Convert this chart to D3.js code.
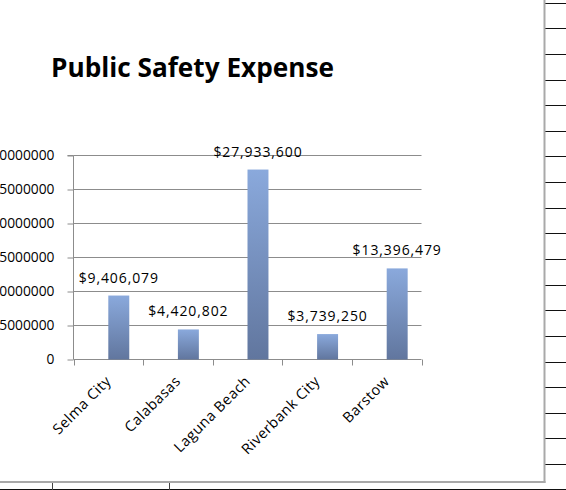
<!DOCTYPE html>
<html>
<head>
<meta charset="utf-8">
<script src="https://cdn.jsdelivr.net/npm/d3@7"></script>
<style>
  html, body { margin: 0; padding: 0; background: #fff; }
  svg { display: block; }
  text { font-family: "Open Sans", "Liberation Sans", sans-serif; fill: #000; }
</style>
</head>
<body>
<svg id="chart" width="566" height="490"></svg>
<script>
// City public safety expenses (USD)
const categories = ["Selma City", "Calabasas", "Laguna Beach", "Riverbank City", "Barstow"];
const expenses = [9406079, 4420802, 27933600, 3739250, 13396479];
const yTickValues = [0, 5000000, 10000000, 15000000, 20000000, 25000000, 30000000];
const chartTitle = "Public Safety Expense";

const svg = d3.select("#chart");
const W = 566, H = 490;

// ---- worksheet background: row/column rules around the chart object ----
const sheet = svg.append("g").attr("class", "sheet");
const rowStep = 25.63, rowStart = 2.7;
for (let y = rowStart; y < H; y += rowStep) {
  sheet.append("line")
    .attr("x1", 545).attr("x2", W)
    .attr("y1", Math.round(y) + 0.5).attr("y2", Math.round(y) + 0.5)
    .attr("stroke", "#111").attr("stroke-width", 1);
}
// bottom row rule across the full width
sheet.append("line").attr("x1", 0).attr("x2", W).attr("y1", 489.5).attr("y2", 489.5)
  .attr("stroke", "#111").attr("stroke-width", 1);
// column rules peeking out below the chart
[52.5, 169.5].forEach(x => {
  sheet.append("line").attr("x1", x).attr("x2", x).attr("y1", 482).attr("y2", 490)
    .attr("stroke", "#444").attr("stroke-width", 1);
});

// chart object area with its gray frame edges
svg.append("rect").attr("x", 0).attr("y", 0).attr("width", 544).attr("height", 481).attr("fill", "#fff");
svg.append("rect").attr("x", 543.5).attr("y", 0).attr("width", 2).attr("height", 483).attr("fill", "#a9a9a9");
svg.append("rect").attr("x", 0).attr("y", 481).attr("width", 545.5).attr("height", 2).attr("fill", "#a9a9a9");

// ---- title ----
svg.append("text")
  .attr("x", 51).attr("y", 77)
  .attr("font-size", 26.2).attr("font-weight", "bold")
  .text(chartTitle);

// ---- scales ----
const plot = { left: 73.5, right: 421.5, top: 155.5, bottom: 359.5 };

const x0 = d3.scaleBand().domain(categories).range([plot.left, plot.right]);
// two slots per category (clustered layout); the expense bar sits in the second slot
const x1 = d3.scaleBand().domain(["other", "expense"]).range([0, x0.bandwidth()])
  .paddingInner(0).paddingOuter(0.66);
const y = d3.scaleLinear().domain([0, 30000000]).range([plot.bottom, plot.top]);

const axisColor = "#8c8c8c";

// gridlines
svg.append("g").selectAll("line").data(yTickValues.filter(v => v > 0)).join("line")
  .attr("x1", plot.left).attr("x2", plot.right)
  .attr("y1", d => y(d)).attr("y2", d => y(d))
  .attr("stroke", axisColor).attr("stroke-width", 1);

// y axis
const yAxis = svg.append("g")
  .attr("transform", `translate(${plot.left},0)`)
  .call(d3.axisLeft(y).tickValues(yTickValues).tickFormat(d3.format("d")).tickSize(6).tickPadding(13));
yAxis.select(".domain").attr("stroke", axisColor).attr("d", `M-6,${plot.top}H0V${plot.bottom}`);
yAxis.selectAll(".tick line").attr("stroke", axisColor);
yAxis.selectAll(".tick text")
  .attr("font-size", 13.8).attr("font-family", '"Open Sans", sans-serif').attr("fill", "#000");

// x axis with tick marks on category boundaries
const xAxisG = svg.append("g").attr("transform", `translate(0,${plot.bottom})`);
xAxisG.append("line").attr("x1", plot.left).attr("x2", plot.right).attr("y1", 0).attr("y2", 0)
  .attr("stroke", axisColor);
const boundaries = categories.map(c => x0(c)).concat([plot.right]);
xAxisG.selectAll("line.tk").data(boundaries).join("line").attr("class", "tk")
  .attr("x1", d => Math.round(d) + 0.5).attr("x2", d => Math.round(d) + 0.5)
  .attr("y1", 0).attr("y2", 6).attr("stroke", axisColor);

xAxisG.selectAll("text.cat").data(categories).join("text").attr("class", "cat")
  .attr("transform", d => `translate(${x0(d) + x0.bandwidth() / 2},${19}) rotate(-45)`)
  .attr("text-anchor", "end").attr("dy", "0.35em")
  .attr("font-size", 14.5).attr("letter-spacing", 0.5)
  .text(d => d);

// ---- bars ----
const defs = svg.append("defs");
const grad = defs.append("linearGradient").attr("id", "barFill")
  .attr("x1", 0).attr("y1", 0).attr("x2", 0).attr("y2", 1);
grad.append("stop").attr("offset", "0%").attr("stop-color", "#8aa9dc");
grad.append("stop").attr("offset", "100%").attr("stop-color", "#61769e");

const rows = categories.map((c, i) => ({ category: c, value: expenses[i] }));

svg.append("g").selectAll("rect").data(rows).join("rect")
  .attr("x", d => x0(d.category) + x1("expense"))
  .attr("width", x1.bandwidth())
  .attr("y", d => y(d.value))
  .attr("height", d => y(0) - y(d.value))
  .attr("fill", "url(#barFill)");

// value labels
const money = d3.format("$,");
svg.append("g").selectAll("text").data(rows).join("text")
  .attr("x", d => x0(d.category) + x1("expense") + x1.bandwidth() / 2)
  .attr("y", d => y(d.value) - 13)
  .attr("text-anchor", "middle")
  .attr("font-size", 14).attr("letter-spacing", 0.9)
  .text(d => money(d.value));
</script>
</body>
</html>
